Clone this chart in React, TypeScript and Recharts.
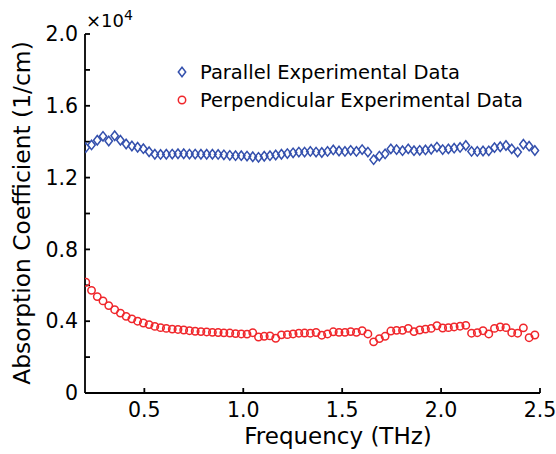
import { Legend, Scatter, ScatterChart, XAxis, YAxis } from 'recharts';

// frequency in THz
const frequency = [
  0.204, 0.233, 0.262, 0.291, 0.32, 0.35, 0.379, 0.408, 0.437, 0.466,
  0.495, 0.524, 0.553, 0.582, 0.611, 0.641, 0.67, 0.699, 0.728, 0.757,
  0.786, 0.815, 0.844, 0.873, 0.902, 0.932, 0.961, 0.99, 1.019, 1.048,
  1.077, 1.106, 1.135, 1.164, 1.193, 1.223, 1.252, 1.281, 1.31, 1.339,
  1.368, 1.397, 1.426, 1.455, 1.484, 1.514, 1.543, 1.572, 1.601, 1.63,
  1.659, 1.688, 1.717, 1.746, 1.775, 1.805, 1.834, 1.863, 1.892, 1.921,
  1.95, 1.979, 2.008, 2.037, 2.066, 2.096, 2.125, 2.154, 2.183, 2.212,
  2.241, 2.27, 2.299, 2.328, 2.357, 2.387, 2.416, 2.445, 2.474,
];

// absorption coefficient, 1/cm
const parallel = [
  13670, 13820, 14080, 14300, 14040, 14330, 14080, 13870, 13760, 13690,
  13610, 13440, 13300, 13290, 13300, 13310, 13330, 13330, 13310, 13310,
  13300, 13300, 13300, 13290, 13270, 13240, 13220, 13220, 13200, 13160,
  13130, 13190, 13220, 13260, 13300, 13340, 13380, 13420, 13420, 13460,
  13420, 13400, 13460, 13540, 13480, 13460, 13520, 13460, 13560, 13420,
  13000, 13200, 13320, 13600, 13560, 13500, 13600, 13500, 13520, 13540,
  13580, 13700, 13560, 13600, 13640, 13680, 13790, 13460, 13460, 13480,
  13490, 13670, 13720, 13790, 13600, 13420, 13860, 13750, 13510,
];

const perpendicular = [
  6170, 5720, 5370, 5130, 4870, 4640, 4450, 4270, 4130, 4000,
  3900, 3810, 3710, 3640, 3600, 3560, 3540, 3510, 3470, 3440,
  3420, 3400, 3380, 3370, 3350, 3340, 3310, 3290, 3280, 3360,
  3120, 3160, 3180, 3050, 3240, 3250, 3290, 3330, 3340, 3330,
  3370, 3220, 3290, 3410, 3380, 3380, 3420, 3380, 3470, 3290,
  2850, 3030, 3160, 3450, 3490, 3490, 3600, 3420, 3510, 3560,
  3600, 3750, 3620, 3640, 3680, 3720, 3770, 3330, 3360, 3470,
  3290, 3600, 3680, 3640, 3360, 3330, 3630, 3080, 3230,
];

const xTicks = [0.5, 1, 1.5, 2, 2.5];
const yTicks = [0, 2000, 4000, 6000, 8000, 10000, 12000, 14000, 16000, 18000, 20000];

const FONT = '"DejaVu Sans", sans-serif';
const BLUE = '#3450ad';
const RED = '#f0262b';

const parallelData = frequency.map((f, i) => ({ f, a: parallel[i] }));
const perpendicularData = frequency.map((f, i) => ({ f, a: perpendicular[i] }));

const axisLine = { stroke: '#000', strokeWidth: 1.8 };
const tickStyle = { fill: '#000', fontSize: 20.5, fontFamily: FONT };

function Diamond({ cx, cy }: { cx?: number; cy?: number }) {
  if (cx == null || cy == null) return null;
  return (
    <path
      d={`M${cx},${cy - 4.7}L${cx + 3.7},${cy}L${cx},${cy + 4.7}L${cx - 3.7},${cy}Z`}
      fill="none"
      stroke={BLUE}
      strokeWidth={1.5}
    />
  );
}

function Ring({ cx, cy }: { cx?: number; cy?: number }) {
  if (cx == null || cy == null) return null;
  return <circle cx={cx} cy={cy} r={3.7} fill="none" stroke={RED} strokeWidth={1.5} />;
}

function LegendBox() {
  const row = { display: 'flex', alignItems: 'center', height: 28 };
  return (
    <div style={{ fontFamily: FONT, fontSize: 19.5, color: '#000' }}>
      <div style={row}>
        <svg width={14} height={14}>
          <Diamond cx={7} cy={7} />
        </svg>
        <span style={{ marginLeft: 11 }}>Parallel Experimental Data</span>
      </div>
      <div style={row}>
        <svg width={14} height={14}>
          <Ring cx={7} cy={7} />
        </svg>
        <span style={{ marginLeft: 11 }}>Perpendicular Experimental Data</span>
      </div>
    </div>
  );
}

export default function App() {
  return (
    <div style={{ position: 'absolute', left: 0, top: 0, background: '#fff' }}>
      <ScatterChart width={556} height={454} margin={{ top: 34, right: 16, bottom: 0, left: 0 }}>
        <XAxis
          dataKey="f"
          type="number"
          domain={[0.2, 2.5]}
          ticks={xTicks}
          allowDataOverflow
          height={61}
          tickSize={-5}
          tickMargin={14}
          axisLine={axisLine}
          tickLine={axisLine}
          tick={tickStyle}
          tickFormatter={(v: number) => v.toFixed(1)}
        />
        <XAxis
          xAxisId="top"
          orientation="top"
          type="number"
          domain={[0.2, 2.5]}
          ticks={xTicks}
          allowDataOverflow
          height={0}
          tickSize={-5}
          axisLine={axisLine}
          tickLine={axisLine}
          tickFormatter={() => ''}
        />
        <YAxis
          dataKey="a"
          type="number"
          domain={[0, 20000]}
          ticks={yTicks}
          allowDataOverflow
          width={85}
          tickSize={-5}
          tickMargin={12}
          axisLine={axisLine}
          tickLine={axisLine}
          tick={tickStyle}
          tickFormatter={(v: number) =>
            v % 4000 !== 0 ? '' : v === 0 ? '0' : (v / 10000).toFixed(1)
          }
        />
        <YAxis
          yAxisId="right"
          orientation="right"
          type="number"
          domain={[0, 20000]}
          ticks={yTicks}
          allowDataOverflow
          width={0}
          tickSize={-5}
          axisLine={axisLine}
          tickLine={axisLine}
          tickFormatter={() => ''}
        />
        <Legend
          layout="vertical"
          align="center"
          verticalAlign="middle"
          content={<LegendBox />}
          wrapperStyle={{ top: 58, left: 175, width: 'auto' }}
        />
        <Scatter
          name="Parallel Experimental Data"
          data={parallelData}
          shape={(p: any) => <Diamond cx={p.cx} cy={p.cy} />}
          isAnimationActive={false}
        />
        <Scatter
          name="Perpendicular Experimental Data"
          data={perpendicularData}
          shape={(p: any) => <Ring cx={p.cx} cy={p.cy} />}
          isAnimationActive={false}
        />
        <text x={338} y={444} textAnchor="middle" fontFamily={FONT} fontSize={23} fill="#000">
          Frequency (THz)
        </text>
        <text
          x={30}
          y={213}
          transform="rotate(-90, 30, 213)"
          textAnchor="middle"
          fontFamily={FONT}
          fontSize={23.4}
          fill="#000"
        >
          Absorption Coefficient (1/cm)
        </text>
        <text x={86} y={27} fontFamily={FONT} fontSize={18} fill="#000">
          ×10
        </text>
        <text x={124} y={20} fontFamily={FONT} fontSize={14} fill="#000">
          4
        </text>
      </ScatterChart>
    </div>
  );
}
